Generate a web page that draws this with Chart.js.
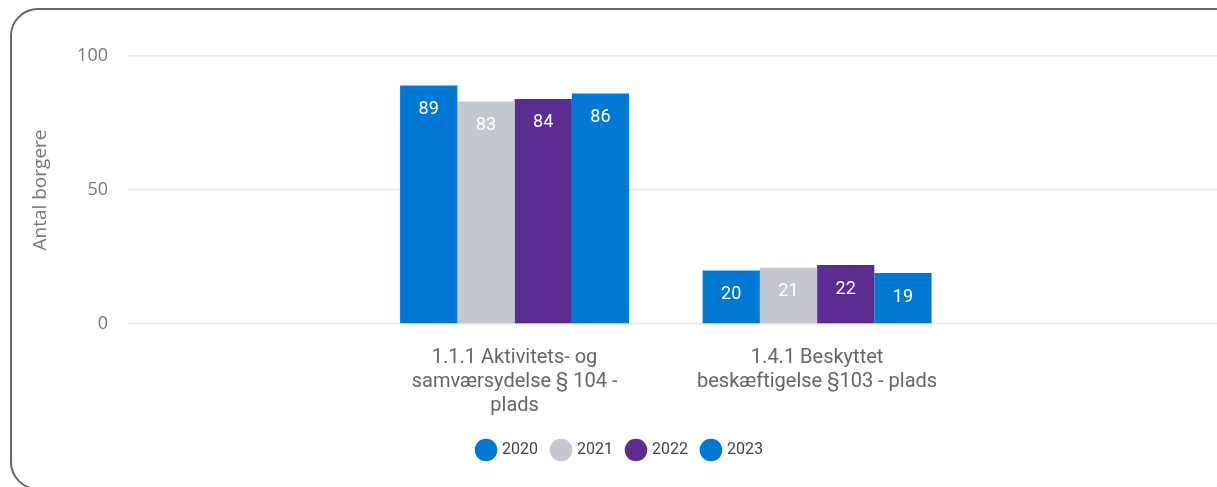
<!DOCTYPE html>
<html>
<head>
<meta charset="utf-8">
<script src="https://cdn.jsdelivr.net/npm/chart.js@4"></script>
<style>
  html, body { margin: 0; padding: 0; background: #fff; }
  #wrap { position: relative; width: 1217px; height: 487px; overflow: hidden; }
  #frame {
    position: absolute; left: 10px; top: 8px; width: 1230px; height: 478px;
    border: 2px solid #666; border-radius: 28px; pointer-events: none;
  }
</style>
</head>
<body>
<div id="wrap">
  <canvas id="barChart"></canvas>
  <div id="frame"></div>
</div>
<script>
const categories = [
    ['1.1.1 Aktivitets- og', 'samværsydelse § 104 -', 'plads'],
    ['1.4.1 Beskyttet', 'beskæftigelse §103 - plads']
];
const years = ['2020', '2021', '2022', '2023'];
const values2020 = [89, 20];
const values2021 = [83, 21];
const values2022 = [84, 22];
const values2023 = [86, 19];
const colors = ['#0078D4', '#C3C8CE', '#5C2D91', '#0078D4'];
const yTicks = [0, 50, 100];

const allValues = [values2020, values2021, values2022, values2023];

// white value labels drawn just inside the top of each bar
const barLabels = {
    id: 'barLabels',
    afterDatasetsDraw(chart) {
        const ctx = chart.ctx;
        ctx.save();
        ctx.font = '18px Roboto';
        ctx.fillStyle = '#fff';
        ctx.textAlign = 'center';
        ctx.textBaseline = 'middle';
        chart.data.datasets.forEach((ds, i) => {
            const meta = chart.getDatasetMeta(i);
            meta.data.forEach((bar, j) => {
                ctx.fillText(String(ds.data[j].y), bar.x, bar.y + 24);
            });
        });
        ctx.restore();
    }
};

const ctx = document.getElementById('barChart').getContext('2d');
new Chart(ctx, {
    type: 'bar',
    data: {
        datasets: years.map((year, i) => ({
            label: year,
            data: allValues[i].map((v, k) => ({ x: k, y: v })),
            backgroundColor: colors[i],
            borderWidth: 0,
            categoryPercentage: 0.757,
            barPercentage: 1
        }))
    },
    options: {
        responsive: true,
        maintainAspectRatio: false,
        animation: false,
        layout: { padding: { top: 56, right: 0, left: 24, bottom: 19 } },
        plugins: {
            tooltip: { enabled: false },
            legend: {
                position: 'bottom',
                labels: {
                    usePointStyle: true,
                    pointStyle: 'circle',
                    boxWidth: 17,
                    boxHeight: 17,
                    padding: 15,
                    color: '#444',
                    font: { family: 'Roboto', size: 16 }
                }
            }
        },
        scales: {
            x: {
                type: 'linear',
                offset: false,
                min: -1.278,
                max: 2.322,
                grid: { display: false, drawTicks: false },
                border: { display: false },
                afterBuildTicks(scale) {
                    scale.ticks = categories.map((c, k) => ({ value: k }));
                },
                afterFit(scale) { scale.height = 103; },
                ticks: {
                    padding: 22,
                    color: '#666',
                    font: { family: 'Roboto', size: 20, lineHeight: 1.2 },
                    maxRotation: 0,
                    callback: (v) => categories[v]
                }
            },
            y: {
                min: 0,
                max: 100,
                afterFit(scale) { scale.width = 104; },
                afterBuildTicks(scale) {
                    scale.ticks = yTicks.map(v => ({ value: v }));
                },
                grid: { color: '#e6e6e6', lineWidth: 1.5, drawTicks: false },
                border: { display: false },
                ticks: {
                    padding: 20,
                    color: '#777',
                    font: { family: 'Open Sans', size: 18 }
                },
                title: {
                    display: true,
                    text: 'Antal borgere',
                    color: '#777',
                    padding: { top: 5 },
                    font: { family: 'Open Sans', size: 19 }
                }
            }
        }
    },
    plugins: [barLabels]
});
</script>
</body>
</html>
